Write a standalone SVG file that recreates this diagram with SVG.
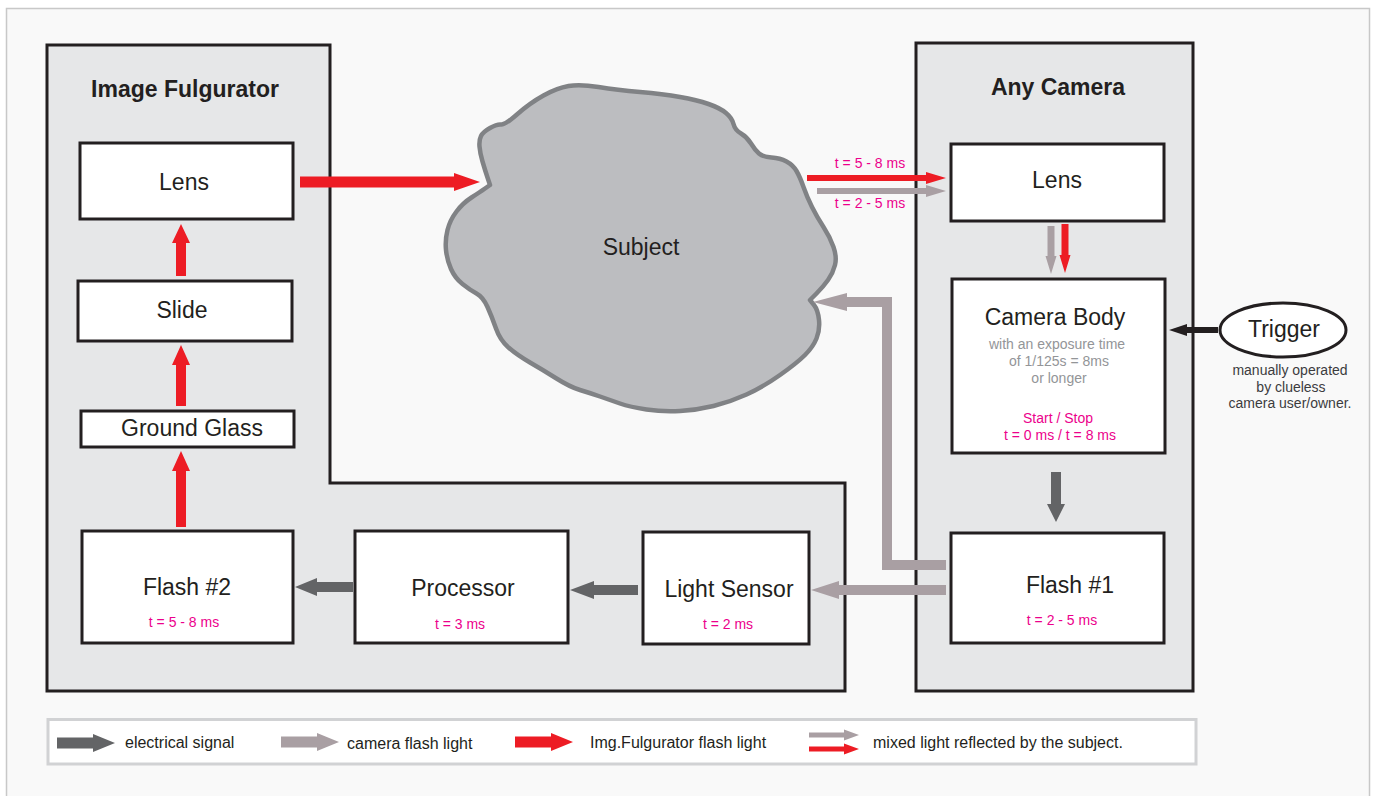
<svg xmlns="http://www.w3.org/2000/svg" width="1375" height="796" viewBox="0 0 1375 796">
<style>
text{font-family:"Liberation Sans",Arial,Helvetica,sans-serif;fill:#231f20}
.title{font-size:23px;font-weight:bold;text-anchor:middle}
.lbl{font-size:23px;text-anchor:middle}
.t{font-size:14px;fill:#ec008c;text-anchor:middle}
.g{font-size:14px;fill:#939598;text-anchor:middle}
.n{font-size:14px;fill:#3c3c3e;text-anchor:middle}
.leg{font-size:16px}
.panel{fill:#e6e7e8;stroke:#231f20;stroke-width:3}
.box{fill:#ffffff;stroke:#231f20;stroke-width:3}
.red{fill:#ed1c24}
.gry{fill:#a99fa3}
.drk{fill:#636466}
.blk{fill:#231f20}
</style>
<rect x="0" y="0" width="1375" height="796" fill="#ffffff"/>
<rect x="6.5" y="8.5" width="1363" height="800" fill="#f9f9f9" stroke="#c8c8c8" stroke-width="1.5"/>

<g id="image-fulgurator">
<path class="panel" d="M47,45 H330 V483 H845 V691 H47 Z"/>
<text class="title" x="185" y="97">Image Fulgurator</text>
</g>
<g id="any-camera">
<rect class="panel" x="916" y="43" width="277" height="648"/>
<text class="title" x="1058" y="95">Any Camera</text>
</g>

<g id="subject">
<path fill="#bcbdc0" stroke="#808285" stroke-width="4.5" stroke-linejoin="round" d="M490,185 L487.5,177.5 Q485,170 482.5,161.5 Q480,153 479.5,146.5 Q479,140 481,136 Q483,132 490,128 Q497,124 501,124.5 Q505,125 517.5,114 Q530,103 543.5,95.5 Q557,88 568.5,86 Q580,84 598.5,87 Q617,90 640,92 Q663,94 680,97 Q697,100 708.5,104 Q720,108 726,113 Q732,118 733.5,124 Q735,130 741,133.5 Q747,137 751,143.5 Q755,150 759,153.5 Q763,157 771.5,157.5 Q780,158 786.5,161.5 Q793,165 796.5,171 Q800,177 803.5,187 Q807,197 812,207 Q817,217 823.5,227 Q830,237 833.5,247 Q837,257 835,265 Q833,273 828,280 Q823,287 816.5,293.5 L810,300 L814,305 Q818,310 819,320 Q820,330 816.5,338.5 Q813,347 805,355 Q797,363 780,375 Q763,387 746.5,394.5 Q730,402 713.5,406 Q697,410 680,411 Q663,412 646.5,409.5 Q630,407 620,403.5 Q610,400 600,396.5 Q590,393 580,390 Q570,387 556.5,378.5 Q543,370 530,362.5 Q517,355 508.5,347.5 Q500,340 496,328.5 Q492,317 487.5,307 Q483,297 476.5,293.5 Q470,290 462.5,284 Q455,278 451,269 Q447,260 446,250 Q445,240 447.5,230 Q450,220 456.5,211.5 Q463,203 471.5,197.5 Q480,192 485,188.5 Z"/>
<text class="lbl" x="641" y="255">Subject</text>
</g>

<g id="if-lens">
<rect class="box" x="80" y="143" width="213" height="76"/>
<text class="lbl" x="184" y="190">Lens</text>
</g>
<g id="slide">
<rect class="box" x="78" y="281" width="214" height="60"/>
<text class="lbl" x="182" y="318">Slide</text>
</g>
<g id="ground-glass">
<rect class="box" x="81" y="411" width="213" height="36"/>
<text class="lbl" x="192" y="436">Ground Glass</text>
</g>
<g id="flash2">
<rect class="box" x="82" y="531" width="211" height="112"/>
<text class="lbl" x="187" y="595">Flash #2</text>
<text class="t" x="184" y="627">t = 5 - 8 ms</text>
</g>
<g id="processor">
<rect class="box" x="355" y="531" width="213" height="112"/>
<text class="lbl" x="463" y="596">Processor</text>
<text class="t" x="460" y="629">t = 3 ms</text>
</g>
<g id="light-sensor">
<rect class="box" x="643" y="532" width="166" height="112"/>
<text class="lbl" x="729" y="597">Light Sensor</text>
<text class="t" x="728" y="629">t = 2 ms</text>
</g>
<g id="cam-lens">
<rect class="box" x="951" y="144" width="213" height="77"/>
<text class="lbl" x="1057" y="188">Lens</text>
</g>
<g id="camera-body">
<rect class="box" x="952" y="279" width="213" height="174"/>
<text class="lbl" x="1055" y="325">Camera Body</text>
<text class="g" x="1057" y="349">with an exposure time</text>
<text class="g" x="1059" y="366">of 1/125s = 8ms</text>
<text class="g" x="1059" y="383">or longer</text>
<text class="t" x="1058" y="423">Start / Stop</text>
<text class="t" x="1060" y="440">t = 0 ms / t = 8 ms</text>
</g>
<g id="flash1">
<rect class="box" x="951" y="533" width="213" height="110"/>
<text class="lbl" x="1070" y="593">Flash #1</text>
<text class="t" x="1062" y="625">t = 2 - 5 ms</text>
</g>
<g id="trigger">
<ellipse cx="1283" cy="330" rx="63" ry="27" fill="#ffffff" stroke="#231f20" stroke-width="3"/>
<text class="lbl" x="1284" y="337">Trigger</text>
<text class="n" x="1290" y="375">manually operated</text>
<text class="n" x="1291" y="392">by clueless</text>
<text class="n" x="1290" y="408">camera user/owner.</text>
</g>

<g id="connectors">
<!-- IF Lens -> Subject -->
<polygon class="red" points="300,176.5 454,176.5 454,173 480,182 454,191 454,187.5 300,187.5"/>
<!-- Slide -> Lens -->
<polygon class="red" points="176,276 176,243 172,243 181,224 190,243 186,243 186,276"/>
<!-- GG -> Slide -->
<polygon class="red" points="176,406 176,365 172,365 181,345 190,365 186,365 186,406"/>
<!-- Flash2 -> GG -->
<polygon class="red" points="176,527 176,471 172,471 181,451 190,471 186,471 186,527"/>
<!-- Processor -> Flash2 -->
<polygon class="drk" points="353,582 317,582 317,578 295,587 317,596 317,592 353,592"/>
<!-- Light Sensor -> Processor -->
<polygon class="drk" points="638,585 594,585 594,581 570,590 594,599 594,595 638,595"/>
<!-- Flash1 -> Light Sensor -->
<polygon class="gry" points="946,585 839,585 839,581 811,590 839,599 839,595 946,595"/>
<!-- Flash1 -> Subject (L path) -->
<polygon class="gry" points="946,560 892,560 892,297 847,297 847,293 813,302 847,311 847,307 882,307 882,570 946,570"/>
<!-- Subject -> Cam Lens (red and gray) -->
<polygon class="red" points="807,175 926,175 926,172 946,178 926,184 926,181 807,181"/>
<polygon class="gry" points="817,188 926,188 926,185 946,191 926,197 926,194 817,194"/>
<text class="t" x="870" y="168">t = 5 - 8 ms</text>
<text class="t" x="870" y="208">t = 2 - 5 ms</text>
<!-- Cam Lens -> Camera Body -->
<polygon class="gry" points="1047.5,226 1047.5,256 1045.5,256 1051,274 1056.5,256 1054.5,256 1054.5,226"/>
<polygon class="red" points="1061.5,224 1061.5,255 1059.5,255 1065,273 1070.5,255 1068.5,255 1068.5,224"/>
<!-- Camera Body -> Flash1 -->
<polygon class="drk" points="1051,472 1051,504 1047,504 1056,522 1065,504 1061,504 1061,472"/>
<!-- Trigger -> Camera Body -->
<polygon class="blk" points="1218,327 1187,327 1187,324 1169,330 1187,336 1187,333 1218,333"/>
</g>

<g id="legend">
<rect x="48" y="719.5" width="1148" height="44.5" fill="#ffffff" stroke="#d1d2d4" stroke-width="3"/>
<polygon class="drk" points="57,737.5 93,737.5 93,734 115,743 93,752 93,748.5 57,748.5"/>
<text class="leg" x="125" y="748">electrical signal</text>
<polygon class="gry" points="281,736.5 317,736.5 317,733 339,742 317,751 317,747.5 281,747.5"/>
<text class="leg" x="347" y="749">camera flash light</text>
<polygon class="red" points="515,736.5 551,736.5 551,733 573,742 551,751 551,747.5 515,747.5"/>
<text class="leg" x="590" y="748">Img.Fulgurator flash light</text>
<polygon class="gry" points="809,732.5 844,732.5 844,729.5 859,735 844,740.5 844,737.5 809,737.5"/>
<polygon class="red" points="809,746.5 844,746.5 844,743.5 859,749 844,754.5 844,751.5 809,751.5"/>
<text class="leg" x="873" y="748">mixed light reflected by the subject.</text>
</g>
</svg>
